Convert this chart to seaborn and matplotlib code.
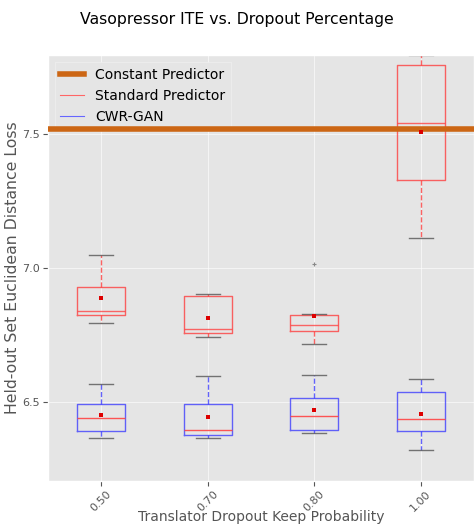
import numpy as np
import pandas as pd
import matplotlib
matplotlib.use("Agg")
import matplotlib.pyplot as plt
from matplotlib.lines import Line2D
import seaborn as sns

plt.style.use("ggplot")

keep_probs = ["0.50", "0.70", "0.80", "1.00"]

# Standard Predictor (red) box statistics
std_whislo = [6.795, 6.740, 6.716, 7.113]
std_q1 = [6.823, 6.755, 6.766, 7.328]
std_med = [6.838, 6.772, 6.786, 7.542]
std_q3 = [6.930, 6.895, 6.825, 7.759]
std_whishi = [7.049, 6.901, 6.827, 7.794]
std_mean = [6.886, 6.812, 6.821, 7.507]
std_flier_x = ["0.80"]
std_flier_y = [7.014]

# CWR-GAN (blue) box statistics
gan_whislo = [6.363, 6.366, 6.384, 6.318]
gan_q1 = [6.389, 6.375, 6.393, 6.389]
gan_med = [6.438, 6.395, 6.445, 6.434]
gan_q3 = [6.490, 6.493, 6.513, 6.535]
gan_whishi = [6.566, 6.597, 6.599, 6.586]
gan_mean = [6.450, 6.444, 6.468, 6.453]

constant_loss = 7.52


def long_frame(lo, q1, med, q3, hi):
    rows = []
    for i, k in enumerate(keep_probs):
        for v in (lo[i], q1[i], med[i], q3[i], hi[i]):
            rows.append({"keep": k, "loss": v})
    return pd.DataFrame(rows)


df_std = long_frame(std_whislo, std_q1, std_med, std_q3, std_whishi)
df_gan = long_frame(gan_whislo, gan_q1, gan_med, gan_q3, gan_whishi)

fig = plt.figure(figsize=(4.74, 5.25), dpi=100)
ax = fig.add_axes([0.101, 0.084, 0.899, 0.811])

common = dict(x="keep", y="loss", order=keep_probs, width=0.45, whis=(0, 100),
              fill=False, showfliers=False, linewidth=1.0, ax=ax)

sns.boxplot(data=df_std, **common,
            boxprops=dict(color="#ff3333", alpha=0.75),
            whiskerprops=dict(color="#ff3333", linestyle="--", alpha=0.75),
            capprops=dict(color="#555555", alpha=0.8),
            medianprops=dict(color="#ff4444", alpha=0.8))
sns.boxplot(data=df_gan, **common,
            boxprops=dict(color="#3333ff", alpha=0.75),
            whiskerprops=dict(color="#3333ff", linestyle="--", alpha=0.75),
            capprops=dict(color="#555555", alpha=0.8),
            medianprops=dict(color="#ff4444", alpha=0.9))

means_df = pd.DataFrame({"keep": keep_probs * 2, "loss": std_mean + gan_mean})
sns.stripplot(data=means_df, x="keep", y="loss", order=keep_probs, jitter=False,
              marker="s", color="#dd0000", size=3, linewidth=0, ax=ax, zorder=7)
flier_df = pd.DataFrame({"keep": std_flier_x, "loss": std_flier_y})
sns.stripplot(data=flier_df, x="keep", y="loss", order=keep_probs, jitter=False,
              marker="+", color="#888888", size=3, linewidth=0.8, ax=ax, zorder=5)

ax.axhline(constant_loss, color="#cc6614", linewidth=4, zorder=6)

ax.set_xlim(-0.5, 3.5)
ax.set_ylim(6.204, 7.795)
ax.set_yticks([6.5, 7.0, 7.5])
ax.set_xticks(range(len(keep_probs)))
ax.set_xticklabels(keep_probs, rotation=45)
ax.tick_params(labelsize=8, colors="#555555", pad=2)
ax.grid(True, color="white", linewidth=0.8, alpha=0.6)

ax.set_xlabel("Translator Dropout Keep Probability", fontsize=10, color="#555555", labelpad=-2)
ax.set_ylabel("Held-out Set Euclidean Distance Loss", fontsize=11.3, color="#555555", labelpad=2)
fig.suptitle("Vasopressor ITE vs. Dropout Percentage", fontsize=11.3, y=0.978)

handles = [Line2D([], [], color="#cc6614", linewidth=4),
           Line2D([], [], color="#ff6666", linewidth=0.8),
           Line2D([], [], color="#6666ff", linewidth=0.8)]
leg = ax.legend(handles, ["Constant Predictor", "Standard Predictor", "CWR-GAN"],
                loc="upper left", fontsize=10, frameon=True, facecolor="#e5e5e5",
                edgecolor="#f0f0f0", framealpha=1.0, handlelength=1.7,
                borderaxespad=0.5, labelspacing=0.5, fancybox=False)
leg.set_zorder(5)

fig.savefig("out.png", dpi=100)
